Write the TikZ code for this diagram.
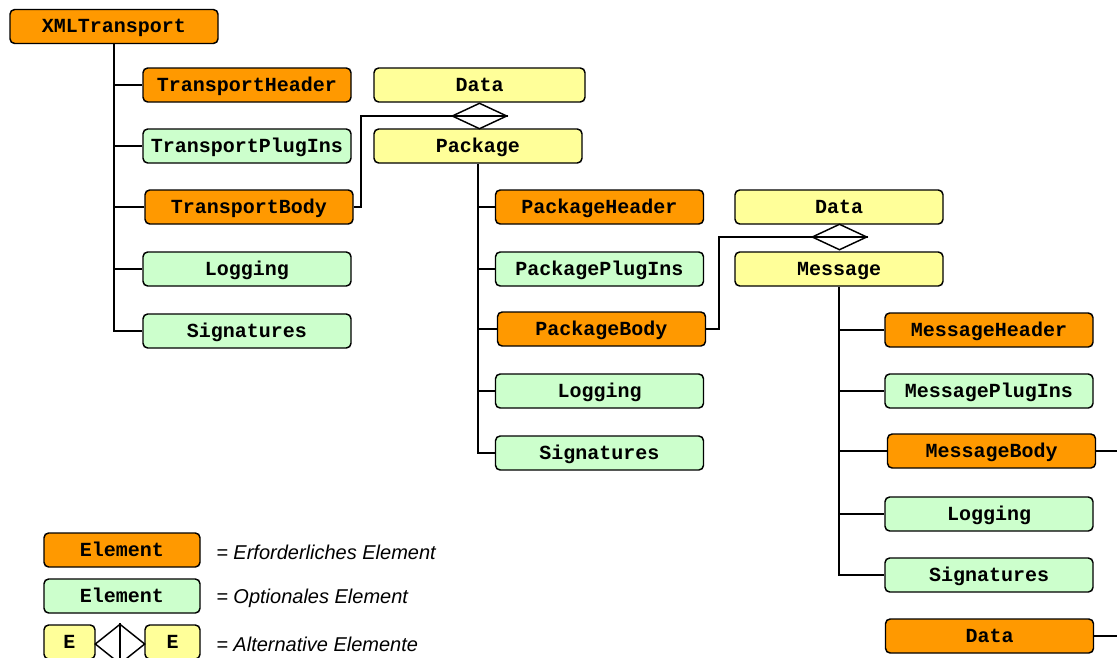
\documentclass[tikz,border=0pt]{standalone}
\usepackage{fontspec}
\setmainfont{Liberation Sans}
\newfontfamily\monob{Liberation Mono}
\usetikzlibrary{shapes.geometric}
\definecolor{reqc}{HTML}{FF9900}
\definecolor{optc}{HTML}{CCFFCC}
\definecolor{altc}{HTML}{FFFF99}
\begin{document}
\begin{tikzpicture}[x=0.75pt,y=-0.75pt,
  box/.style={draw=black, line width=1.1pt, rounded corners=3.5pt, minimum width=156pt, minimum height=25.5pt, inner sep=0pt, text height=9.5pt, text depth=0pt, font=\monob\bfseries\fontsize{15}{18}\selectfont},
  req/.style={box, fill=reqc},
  opt/.style={box, fill=optc},
  alt/.style={box, fill=altc},
  conn/.style={line width=2.2pt},
  link/.style={line width=2pt},
  dia/.style={diamond, draw=black, fill=white, line width=1.1pt, minimum width=41.25pt, minimum height=19.5pt, inner sep=0pt},
  legtext/.style={anchor=west, inner sep=0pt, font=\itshape\fontsize{15}{18}\selectfont}]
\useasboundingbox (0,0) rectangle (1117,657);
% transport level
\node[req] (xml) at (114,26.5) {XMLTransport};
\node[req] (th) at (247,85) {TransportHeader};
\node[opt] (tp) at (247,146) {TransportPlugIns};
\node[req] (tb) at (249,207) {TransportBody};
\node[opt] (tl) at (247,269) {Logging};
\node[opt] (ts) at (247,331) {Signatures};
% package level
\node[alt, minimum width=158.25pt] (d1) at (479.5,85) {Data};
\node[alt] (pk) at (478,146) {Package};
\node[req] (ph) at (599.5,207) {PackageHeader};
\node[opt] (pp) at (599.5,269) {PackagePlugIns};
\node[req] (pb) at (601.5,329) {PackageBody};
\node[opt] (pl) at (599.5,391) {Logging};
\node[opt] (ps) at (599.5,453) {Signatures};
% message level
\node[alt] (d2) at (839,207) {Data};
\node[alt] (ms) at (839,269) {Message};
\node[req] (mh) at (989,330) {MessageHeader};
\node[opt] (mp) at (989,391) {MessagePlugIns};
\node[req] (mb) at (991.5,451) {MessageBody};
\node[opt] (ml) at (989,514) {Logging};
\node[opt] (mss) at (989,575) {Signatures};
\node[req] (md) at (989.5,636) {Data};
% trees
\draw[conn] (xml.south) |- (ts.west);
\foreach \n in {th,tp,tb,tl} \draw[conn] (xml.south |- \n.west) -- (\n.west);
\draw[conn] (pk.south) |- (ps.west);
\foreach \n in {ph,pp,pb,pl} \draw[conn] (pk.south |- \n.west) -- (\n.west);
\draw[conn] (ms.south) |- (mss.west);
\foreach \n in {mh,mp,mb,ml} \draw[conn] (ms.south |- \n.west) -- (\n.west);
% alternatives
\node[dia] (x1) at (479.5,116) {};
\node[dia] (x2) at (839.5,237) {};
\coordinate (j1) at (361,207);
\coordinate (j2) at (719,329);
\draw[link] (tb.east) -- (j1) |- (x1.east);
\draw[link] (pb.east) -- (j2) |- (x2.east);
\coordinate (e1) at (1117,451);
\coordinate (e2) at (1117,636);
\draw[link] (mb.east) -- (e1);
\draw[link] (md.east) -- (e2);
% legend
\node[req, minimum width=117pt] (lg1) at (122,550) {Element};
\node[opt, minimum width=117pt] (lg2) at (122,596) {Element};
\node[alt, minimum width=38.25pt] (le1) at (69.5,642) {E};
\node[alt, minimum width=41.25pt] (le2) at (172.5,642) {E};
\node[dia, minimum width=37.5pt, minimum height=30pt] (lx) at (120,644) {};
\draw[line width=1.1pt] (lx.north) -- (lx.south);
\node[legtext] (t1) at (216,552) {= Erforderliches Element};
\node[legtext] (t2) at (216,598) {= Optionales Element};
\node[legtext] (t3) at (216,644) {= Alternative Elemente};
\end{tikzpicture}
\end{document}
